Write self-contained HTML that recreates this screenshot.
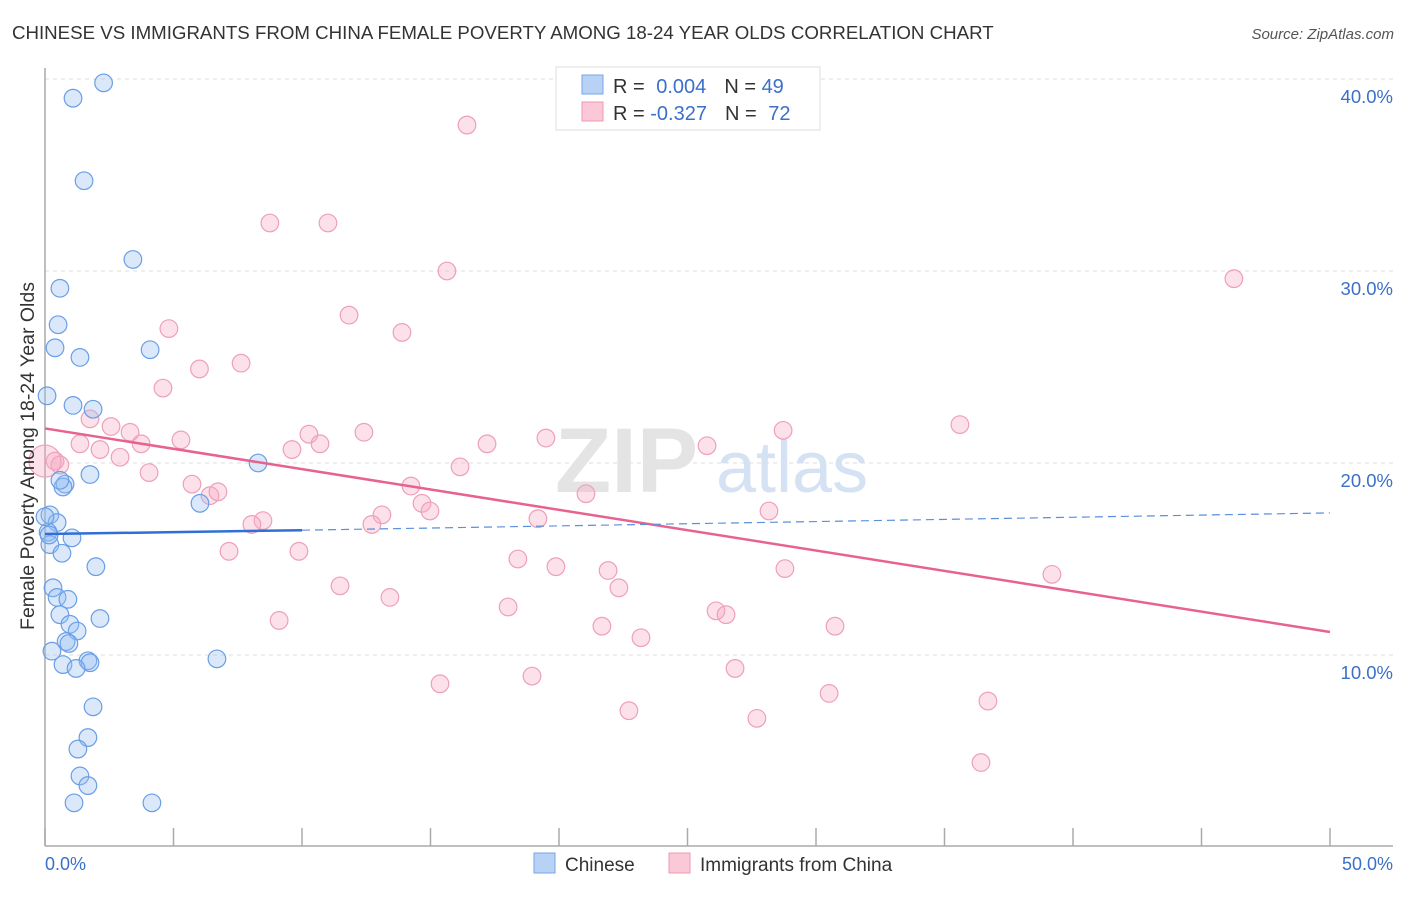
<!DOCTYPE html>
<html><head><meta charset="utf-8"><style>
body{margin:0;background:#fff;font-family:"Liberation Sans",sans-serif;}
svg text{font-family:"Liberation Sans",sans-serif;}
</style></head><body>
<svg id="chart" width="1406" height="892" xmlns="http://www.w3.org/2000/svg">
<text x="12" y="39" font-size="18.7" fill="#333">CHINESE VS IMMIGRANTS FROM CHINA FEMALE POVERTY AMONG 18-24 YEAR OLDS CORRELATION CHART</text>
<text x="1394" y="39" font-size="15" fill="#555" text-anchor="end" font-style="italic">Source: ZipAtlas.com</text>
<g id="grid"></g>
<text x="555" y="492" font-size="92" font-family="Liberation Serif" fill="#e4e4e4" font-weight="bold">ZIP</text>
<text x="716" y="492" font-size="72" fill="#d4e2f4">atlas</text>
<g id="axes"></g>
<g id="pts"></g>
<g id="trends"></g>
<text transform="translate(34,456) rotate(-90)" text-anchor="middle" font-size="19.5" fill="#333">Female Poverty Among 18-24 Year Olds</text>
<text x="45" y="870" font-size="18" fill="#3b70c8">0.0%</text>
<text x="1393" y="870" font-size="18" fill="#3b70c8" text-anchor="end">50.0%</text>
<g>
<rect x="556" y="67" width="264" height="63" fill="#fff" stroke="#ddd"/>
<rect x="582" y="75" width="21" height="19" fill="#b8d2f5" stroke="#7aa5e6"/>
<rect x="582" y="102" width="21" height="19" fill="#fbc8d8" stroke="#ef98b4"/>
<text x="613" y="93" font-size="20" fill="#333">R = <tspan fill="#3b70c8" dx="6">0.004</tspan><tspan dx="18" fill="#333">N = </tspan><tspan fill="#3b70c8">49</tspan></text>
<text x="613" y="120" font-size="20" fill="#333">R = <tspan fill="#3b70c8">-0.327</tspan><tspan dx="18" fill="#333">N = </tspan><tspan fill="#3b70c8" dx="6">72</tspan></text>
</g>
<g>
<rect x="534" y="853" width="21" height="20" fill="#b8d2f5" stroke="#7aa5e6"/>
<text x="565" y="871" font-size="19" fill="#333">Chinese</text>
<rect x="669" y="853" width="21" height="20" fill="#fbc8d8" stroke="#ef98b4"/>
<text x="700" y="871" font-size="19" fill="#333">Immigrants from China</text>
</g>
</svg>
<script>
const yTicks=[10,20,30,40];
const yTickLabels=["10.0%","20.0%","30.0%","40.0%"];
const xTicks=[0,5,10,15,20,25,30,35,40,45,50];
const chineseX=[2.28,1.09,1.52,3.42,0.58,0.51,0.39,1.36,4.09,0.08,1.09,1.87,8.29,1.75,0.78,0.70,0.58,6.03,0.19,0.47,1.05,0.12,0.19,0.66,1.98,0.31,0.47,0.89,2.14,0.58,0.97,1.25,0.82,0.93,1.67,1.75,0.70,1.21,6.69,0.27,1.87,1.67,1.28,1.36,1.67,1.13,4.16,0.0,0.16];
const chineseY=[39.8,39.0,34.7,30.6,29.1,27.2,26.0,25.5,25.9,23.5,23.0,22.8,20.0,19.4,18.9,18.75,19.1,17.9,17.3,16.9,16.1,16.4,15.75,15.3,14.6,13.5,13.0,12.9,11.9,12.1,11.6,11.25,10.7,10.6,9.7,9.6,9.5,9.3,9.8,10.2,7.3,5.7,5.1,3.7,3.2,2.3,2.3,17.2,16.25];
const immX=[16.42,8.75,11.01,15.64,46.26,11.83,13.89,4.82,6.01,7.63,4.59,35.6,1.75,2.57,3.31,3.74,5.29,0.39,0.58,1.36,2.14,2.92,4.05,5.72,6.42,6.73,10.27,10.70,9.61,12.41,17.2,19.49,25.76,28.72,16.15,14.24,14.67,14.98,13.11,12.72,8.48,8.05,21.05,19.18,28.17,7.16,9.88,18.4,19.88,21.91,22.33,28.79,11.48,13.42,18.02,21.67,23.19,26.11,26.5,30.74,39.18,9.11,15.37,18.95,26.85,22.72,27.7,30.51,36.69,36.42,0.0,24.7];
const immY=[37.6,32.5,32.5,30.0,29.6,27.7,26.8,27.0,24.9,25.2,23.9,22.0,22.3,21.9,21.6,21.0,21.2,20.1,19.9,21.0,20.7,20.3,19.5,18.9,18.3,18.5,21.5,21.0,20.7,21.6,21.0,21.3,20.9,21.7,19.8,18.8,17.9,17.5,17.3,16.8,17.0,16.8,18.4,17.1,17.5,15.4,15.4,15.0,14.6,14.4,13.5,14.5,13.6,13.0,12.5,11.5,10.9,12.3,12.1,11.5,14.2,11.8,8.5,8.9,9.3,7.1,6.7,8.0,7.6,4.4,20.1,39.0];
const ns="http://www.w3.org/2000/svg";
const xs=v=>45+v*25.7, ys=v=>847-v*19.2;
function mk(t,a,p){const e=document.createElementNS(ns,t);for(const k in a)e.setAttribute(k,a[k]);p.appendChild(e);return e;}
const grid=document.getElementById('grid');
yTicks.forEach((t,i)=>{
 const l=mk('line',{x1:45,x2:1393,y1:ys(t),y2:ys(t),stroke:'#ddd','stroke-dasharray':'4,4'},grid);
 
 
 const tx=mk('text',{x:1393,y:ys(t)+24,'font-size':18.5,fill:'#3b70c8','text-anchor':'end'},grid);
 tx.textContent=yTickLabels[i];
 
 
});
const axes=document.getElementById('axes');
const ya=mk('line',{x1:45,x2:45,y1:68,y2:846,stroke:'#aaa','stroke-width':1.5},axes);


const xa=mk('line',{x1:45,x2:1393,y1:846,y2:846,stroke:'#aaa','stroke-width':1.5},axes);


xTicks.forEach(t=>{
 const l=mk('line',{x1:xs(t),x2:xs(t),y1:828,y2:846,stroke:'#aaa','stroke-width':1.5},axes);
 
 
});
const pts=document.getElementById('pts');
immX.forEach((x,i)=>{
 const c=mk('circle',{cx:xs(x),cy:ys(immY[i]),r:(i===70?16:8.8),fill:'rgba(246,170,195,0.35)',stroke:'#eea0b8','stroke-width':1.2},pts);
 
 
});
chineseX.forEach((x,i)=>{
 const c=mk('circle',{cx:xs(x),cy:ys(chineseY[i]),r:8.8,fill:'rgba(150,190,240,0.35)',stroke:'#6a9ee6','stroke-width':1.2},pts);
 
 
});
const tr=document.getElementById('trends');
const p1=mk('line',{x1:xs(0),y1:ys(21.8),x2:xs(50),y2:ys(11.2),stroke:'#e8628e','stroke-width':2.5},tr);


const b1=mk('line',{x1:xs(0),y1:ys(16.3),x2:xs(10),y2:ys(16.5),stroke:'#2f6fd6','stroke-width':2.5},tr);


const b2=mk('line',{x1:xs(10),y1:ys(16.5),x2:xs(50),y2:ys(17.4),stroke:'#5a8fdc','stroke-width':1.2,'stroke-dasharray':'8,5'},tr);


</script>
</body></html>
